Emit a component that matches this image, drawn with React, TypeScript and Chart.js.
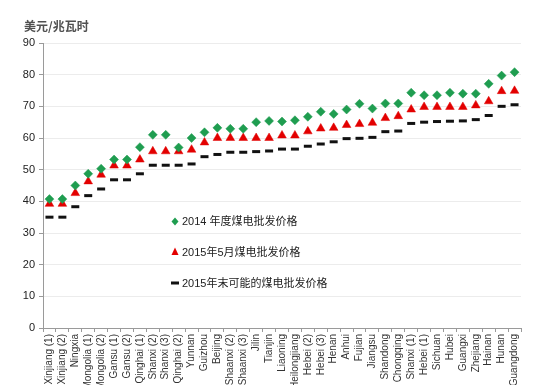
import React, { useEffect, useRef } from "react";
import { Chart, registerables } from "chart.js";

Chart.register(...registerables);

const categories = [
  "Xinjiang (1)", "Xinjiang (2)", "Ningxia", "Inner Mongolia (1)", "Inner Mongolia (2)",
  "Gansu (1)", "Gansu (2)", "Qinghai (1)", "Shanxi (2)", "Shanxi (3)", "Qinghai (2)",
  "Yunnan", "Guizhou", "Beijing", "Shaanxi (2)", "Shaanxi (3)", "Jilin", "Tianjin",
  "Liaoning", "Heilongjiang", "Hebei (2)", "Hebei (3)", "Henan", "Anhui", "Fujian",
  "Jiangsu", "Shandong", "Chongqing", "Shanxi (1)", "Hebei (1)", "Sichuan", "Hubei",
  "Guangxi", "Zhejiang", "Hainan", "Hunan", "Guangdong",
];

const price2014 = [
  40.7, 40.7, 45.0, 48.7, 50.3, 53.2, 53.2, 57.1, 61.0, 61.0, 57.0, 60.0, 61.8,
  63.2, 62.9, 62.9, 65.0, 65.4, 65.2, 65.6, 66.7, 68.3, 67.6, 69.0, 70.8, 69.3,
  70.9, 70.9, 74.3, 73.5, 73.5, 74.3, 74.0, 74.0, 77.1, 79.7, 80.8,
];

const priceMay2015 = [
  39.2, 39.2, 42.6, 46.3, 48.4, 51.3, 51.3, 53.2, 55.8, 55.8, 55.8, 56.3, 58.6,
  60.0, 60.0, 60.0, 60.0, 60.0, 60.8, 60.8, 62.1, 63.0, 63.2, 64.1, 64.4, 64.8,
  66.3, 66.9, 69.0, 69.8, 69.8, 69.8, 69.8, 70.3, 71.6, 74.8, 74.9,
];

const priceEnd2015 = [
  35.0, 35.0, 38.3, 41.8, 43.9, 46.8, 46.8, 48.7, 51.4, 51.4, 51.4, 51.8, 54.1,
  54.8, 55.5, 55.5, 55.7, 55.9, 56.5, 56.5, 57.4, 58.1, 58.8, 59.8, 59.9, 60.2,
  62.0, 62.2, 64.6, 65.0, 65.2, 65.3, 65.4, 65.8, 67.1, 70.0, 70.5,
];

const seriesNames = [
  "2014 年度煤电批发价格",
  "2015年5月煤电批发价格",
  "2015年末可能的煤电批发价格",
];

const yAxisTitle = "美元/兆瓦时";
const yMin = 0;
const yMax = 90;
const yStep = 10;

const GREEN = "#1f9d50";
const RED = "#e30000";
const BLACK = "#111111";

const overlayPlugin = {
  id: "overlay",
  afterDraw(chart: any) {
    const ctx = chart.ctx as CanvasRenderingContext2D;
    ctx.save();
    // axis title
    ctx.fillStyle = "#505050";
    ctx.font = "bold 12px 'Noto Sans CJK SC', sans-serif";
    ctx.textBaseline = "middle";
    ctx.textAlign = "left";
    ctx.fillText(yAxisTitle, 24, 26);

    // legend inside plot
    const area = chart.chartArea;
    const x0 = area.left + 132;
    const rows = [area.top + 178.5, area.top + 209, area.top + 240];
    ctx.font = "11px 'Liberation Sans', 'Noto Sans CJK SC', sans-serif";
    rows.forEach((y, i) => {
      ctx.beginPath();
      if (i === 0) {
        ctx.fillStyle = GREEN;
        ctx.moveTo(x0, y - 4);
        ctx.lineTo(x0 + 3.5, y);
        ctx.lineTo(x0, y + 4);
        ctx.lineTo(x0 - 3.5, y);
        ctx.closePath();
        ctx.fill();
      } else if (i === 1) {
        ctx.fillStyle = RED;
        ctx.moveTo(x0, y - 4.5);
        ctx.lineTo(x0 + 3.5, y + 3);
        ctx.lineTo(x0 - 3.5, y + 3);
        ctx.closePath();
        ctx.fill();
      } else {
        ctx.fillStyle = BLACK;
        ctx.fillRect(x0 - 4, y - 1.5, 8, 3);
      }
      ctx.fillStyle = "#222";
      ctx.fillText(seriesNames[i], x0 + 7, y + 0.5);
    });
    ctx.restore();
  },
};

export default function App() {
  const canvasRef = useRef<HTMLCanvasElement | null>(null);

  useEffect(() => {
    if (!canvasRef.current) return;
    const chart = new Chart(canvasRef.current, {
      type: "line",
      data: {
        labels: categories,
        datasets: [
          {
            label: seriesNames[0],
            data: price2014,
            showLine: false,
            pointStyle: "rectRot",
            pointRadius: 4.5,
            backgroundColor: GREEN,
            borderColor: GREEN,
            pointBorderWidth: 0.5,
          },
          {
            label: seriesNames[1],
            data: priceMay2015,
            showLine: false,
            pointStyle: "triangle",
            pointRadius: 5,
            backgroundColor: RED,
            borderColor: RED,
            pointBorderWidth: 0.5,
          },
          {
            label: seriesNames[2],
            data: priceEnd2015,
            showLine: false,
            pointStyle: "line",
            pointRadius: 4,
            backgroundColor: BLACK,
            borderColor: BLACK,
            pointBorderWidth: 3,
          },
        ],
      },
      options: {
        responsive: false,
        animation: false,
        layout: { padding: { top: 43, right: 15, left: 0, bottom: 0 } },
        plugins: {
          legend: { display: false },
          tooltip: { enabled: false },
          title: { display: false },
        },
        scales: {
          x: {
            type: "category",
            offset: true,
            grid: {
              display: true,
              drawOnChartArea: false,
              drawTicks: true,
              tickLength: 4,
              color: "#9a9a9a",
              offset: true,
            },
            border: { color: "#9a9a9a" },
            ticks: {
              autoSkip: false,
              minRotation: 90,
              maxRotation: 90,
              padding: 2,
              color: "#333",
              font: { family: "'Liberation Sans', sans-serif", size: 10 },
            },
            afterFit: (scale: any) => {
              scale.height = 57;
            },
          },
          y: {
            min: yMin,
            max: yMax,
            ticks: {
              stepSize: yStep,
              padding: 4,
              color: "#222",
              font: { family: "'Liberation Sans', sans-serif", size: 11 },
            },
            grid: {
              color: "#ececec",
              tickLength: 4,
              tickColor: "#9a9a9a",
            },
            border: { color: "#9a9a9a" },
            afterFit: (scale: any) => {
              scale.width = 43;
            },
          },
        },
      },
      plugins: [overlayPlugin],
    });
    return () => chart.destroy();
  }, []);

  return (
    <div style={{ position: "absolute", left: 0, top: 0, width: 536, height: 385, background: "#fff", overflow: "hidden" }}>
      <canvas ref={canvasRef} width={536} height={385} style={{ display: "block" }} />
    </div>
  );
}
